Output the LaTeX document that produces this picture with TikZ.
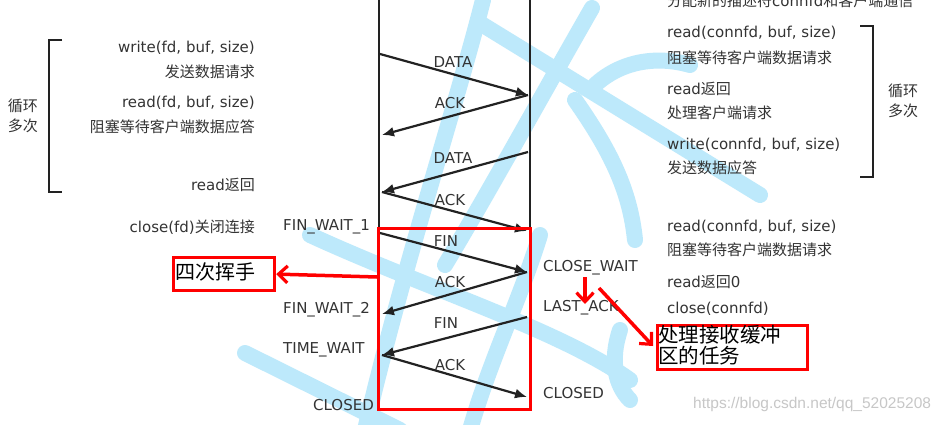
\documentclass[tikz,border=0pt]{standalone}
\usepackage{fontspec}
\setmainfont{DejaVu Sans}
\newfontfamily\cjkfont{Noto Sans CJK SC}
\newfontfamily\urlfont{Liberation Sans}
\usetikzlibrary{arrows.meta}
\newcommand{\zhtxt}[1]{{\cjkfont\fontsize{15}{18}\selectfont #1}}
\definecolor{txt}{HTML}{333333}
\definecolor{wm}{HTML}{BDE9FB}
\definecolor{lineblk}{HTML}{222222}
\begin{document}
\begin{tikzpicture}[x=1pt,y=-1pt,
  lbl/.style={text=txt,font=\fontsize{15}{18}\selectfont,inner sep=0pt},
  msg/.style={draw=lineblk,line width=2.2pt,-{Latex[length=12pt,width=10pt]}},
  redbox/.style={draw=red,line width=3.2pt},
  redarrow/.style={draw=red,line width=3.5pt,-{Straight Barb[length=9pt,width=17pt,line width=3.2pt]}},
  bracket/.style={draw=lineblk,line width=2.4pt},
  wmstroke/.style={draw=wm,line width=16pt,line cap=round}]
\clip (0,0) rectangle (945,425);
\fill[white] (0,0) rectangle (945,425);
% watermark strokes
\draw[wmstroke] (483,0) .. controls (455,110) and (405,260) .. (365,430);
\draw[wmstroke] (592,8) .. controls (545,90) and (490,190) .. (445,265);
\draw[wmstroke] (483,25) -- (760,195);
\draw[wmstroke] (595,85) .. controls (620,62) and (655,55) .. (690,65);
\draw[wmstroke] (575,100) .. controls (610,150) and (630,190) .. (635,240);
\draw[wmstroke] (310,235) .. controls (430,290) and (560,330) .. (630,380);
\draw[wmstroke] (245,353) -- (400,430);
\draw[wmstroke] (620,330) .. controls (610,360) and (615,385) .. (630,400);
\draw[wmstroke] (540,235) .. controls (520,300) and (490,360) .. (470,430);
% vertical lines
\coordinate (ltop) at (379,0); \coordinate (lbot) at (379,411);
\coordinate (rtop) at (530,0); \coordinate (rbot) at (530,409);
\draw[lineblk,line width=2.8pt] (ltop) -- (lbot);
\draw[lineblk,line width=2.8pt] (rtop) -- (rbot);
% message endpoints
\coordinate (a1) at (380,54);  \coordinate (b1) at (528,95);
\coordinate (a2) at (382,135);
\coordinate (b2) at (528,152); \coordinate (a3) at (382,192);
\coordinate (b3) at (527,231);
\coordinate (a4) at (380,233); \coordinate (b4) at (527,272);
\coordinate (a5) at (382,314);
\coordinate (b5) at (527,317); \coordinate (a6) at (382,355);
\coordinate (b6) at (527,397);
\draw[msg] (a1) -- (b1);
\draw[msg] (b1) -- (a2);
\draw[msg] (b2) -- (a3);
\draw[msg] (a3) -- (b3);
\draw[msg] (a4) -- (b4);
\draw[msg] (b4) -- (a5);
\draw[msg] (b5) -- (a6);
\draw[msg] (a6) -- (b6);
\node[lbl] (m1) at (453,62) {DATA};
\node[lbl] (m2) at (450,103) {ACK};
\node[lbl] (m3) at (453,158) {DATA};
\node[lbl] (m4) at (450,200) {ACK};
\node[lbl] (m5) at (446,241) {FIN};
\node[lbl] (m6) at (450,282) {ACK};
\node[lbl] (m7) at (446,323) {FIN};
\node[lbl] (m8) at (450,365) {ACK};
% red rectangle
\node[redbox,inner sep=0pt,minimum width=152pt,minimum height=181pt,anchor=north west] (wave) at (377,227) {};
% left bracket
\draw[bracket] (62,40) -- (49,40) -- (49,192) -- (62,192);
\node[lbl,align=center] (loopl) at (23,116) {\zhtxt{循环}\\[2pt]\zhtxt{多次}};
% left texts
\node[lbl,anchor=east] (lw) at (255,48) {write(fd, buf, size)};
\node[lbl,anchor=east] (lw2) at (255,72) {\zhtxt{发送数据请求}};
\node[lbl,anchor=east] (lr) at (255,103) {read(fd, buf, size)};
\node[lbl,anchor=east] (lr2) at (255,127) {\zhtxt{阻塞等待客户端数据应答}};
\node[lbl,anchor=east] (lr3) at (255,185) {read\zhtxt{返回}};
\node[lbl,anchor=east] (lc) at (255,227) {close(fd)\zhtxt{关闭连接}};
% client states
\node[lbl,anchor=west] (fw1) at (283,227) {FIN\_WAIT\_1};
\node[lbl,anchor=west] (fw2) at (283,310) {FIN\_WAIT\_2};
\node[lbl,anchor=west] (tw) at (283,350) {TIME\_WAIT};
\node[lbl,anchor=east] (cl1) at (374,405) {CLOSED};
% server states
\node[lbl,anchor=west] (cw) at (543,268) {CLOSE\_WAIT};
\node[lbl,anchor=west] (la) at (543,308) {LAST\_ACK};
\node[lbl,anchor=west] (cl2) at (543,393) {CLOSED};
% right texts
\node[lbl,anchor=west] (rt0) at (667,1) {\zhtxt{分配新的描述符}connfd\zhtxt{和客户端通信}};
\node[lbl,anchor=west] (rt1) at (667,33) {read(connfd, buf, size)};
\node[lbl,anchor=west] (rt2) at (667,58) {\zhtxt{阻塞等待客户端数据请求}};
\node[lbl,anchor=west] (rt3) at (667,89) {read\zhtxt{返回}};
\node[lbl,anchor=west] (rt4) at (667,113) {\zhtxt{处理客户端请求}};
\node[lbl,anchor=west] (rt5) at (667,145) {write(connfd, buf, size)};
\node[lbl,anchor=west] (rt6) at (667,168) {\zhtxt{发送数据应答}};
\draw[bracket] (860,26) -- (873,26) -- (873,177) -- (860,177);
\node[lbl,align=center] (loopr) at (903,101) {\zhtxt{循环}\\[2pt]\zhtxt{多次}};
\node[lbl,anchor=west] (rt7) at (667,227) {read(connfd, buf, size)};
\node[lbl,anchor=west] (rt8) at (667,250) {\zhtxt{阻塞等待客户端数据请求}};
\node[lbl,anchor=west] (rt9) at (667,282) {read\zhtxt{返回}0};
\node[lbl,anchor=west] (rt10) at (667,309) {close(connfd)};
% annotation boxes
\node[redbox,anchor=north west,minimum width=101pt,minimum height=33pt,inner sep=0pt] (box1) at (172,256) {};
\node[anchor=west,inner sep=0pt,font=\cjkfont\fontsize{20}{22}\selectfont] (box1t) at (175,272) {四次挥手};
\node[redbox,anchor=north west,minimum width=150pt,minimum height=44pt,inner sep=0pt] (box2) at (656,324) {};
\node[anchor=north west,inner sep=0pt,align=left,font=\cjkfont\fontsize{20.5}{21}\selectfont] (box2t) at (658,325) {处理接收缓冲\\区的任务};
% red arrows
\coordinate (ra1s) at (377,277);
\coordinate (ra2s) at (585,277); \coordinate (ra2e) at (585,304);
\coordinate (ra3s) at (599,288); \coordinate (ra3e) at (653,346);
\draw[redarrow] (ra1s) -- (box1.east);
\draw[redarrow] (ra2s) -- (ra2e);
\draw[redarrow] (ra3s) -- (ra3e);
% url watermark
\node[anchor=west,inner sep=0pt,text=black!22,font=\urlfont\fontsize{15.5}{18}\selectfont] (url) at (693,404) {https://blog.csdn.net/qq\_52025208};
\end{tikzpicture}
\end{document}
